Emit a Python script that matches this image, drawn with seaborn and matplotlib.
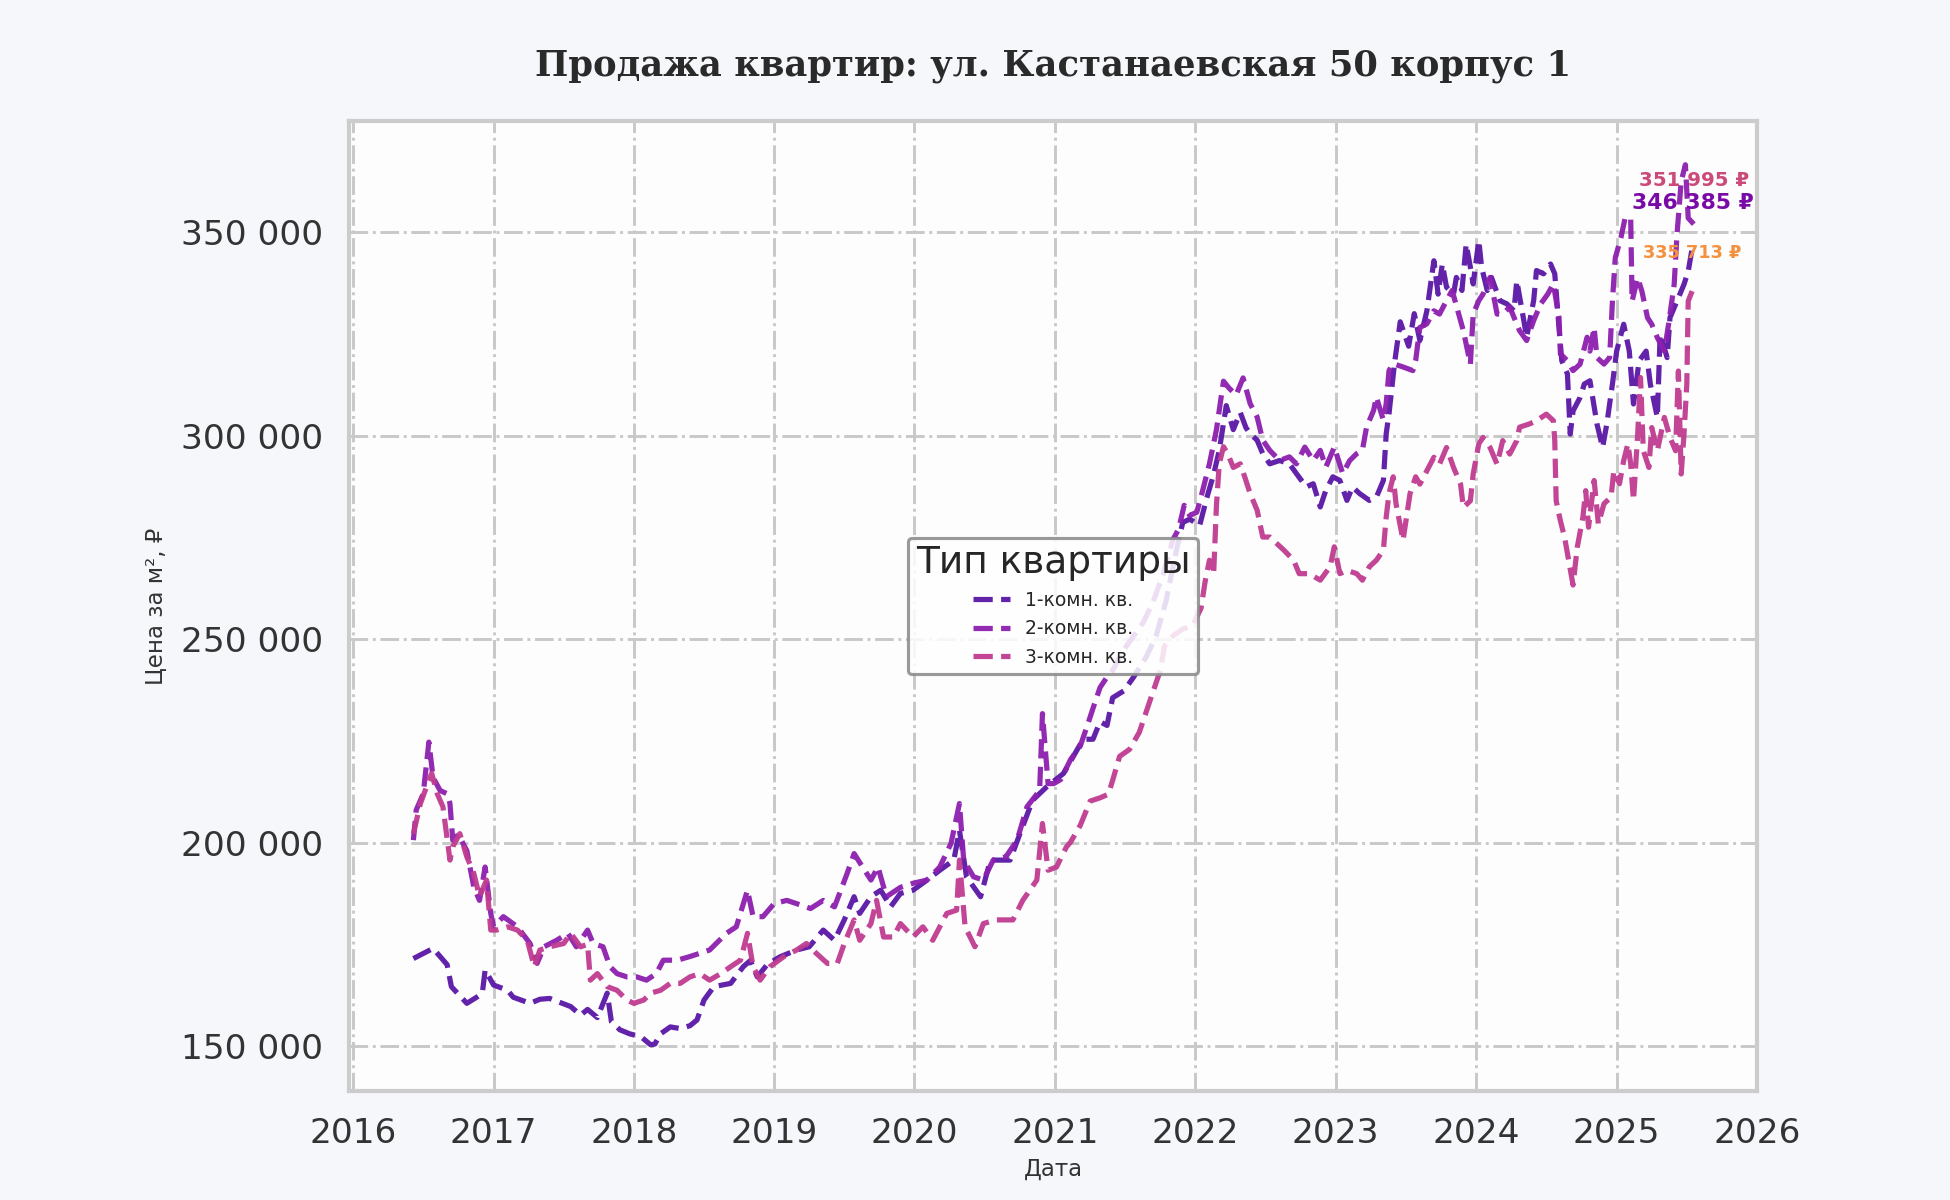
import numpy as np
import pandas as pd
import matplotlib
matplotlib.use("Agg")
import matplotlib.pyplot as plt
import matplotlib.dates as mdates
from matplotlib.ticker import FuncFormatter, FixedLocator
import seaborn as sns

# ---------------- data (decimal years, price in thousand ₽ per m²) ----------------
s1_years = [2016.43, 2016.57, 2016.67, 2016.70, 2016.81, 2016.88, 2016.92, 2016.94, 2017.00, 2017.10,
            2017.14, 2017.26, 2017.33, 2017.40, 2017.55, 2017.62, 2017.67, 2017.74, 2017.81, 2017.84,
            2017.90, 2017.97, 2018.05, 2018.12, 2018.15, 2018.19, 2018.26, 2018.33, 2018.40, 2018.45,
            2018.50, 2018.57, 2018.69, 2018.78, 2018.83, 2018.88, 2018.95, 2019.04, 2019.16, 2019.25,
            2019.35, 2019.43, 2019.50, 2019.57, 2019.61, 2019.69, 2019.76, 2019.83, 2019.90, 2019.99,
            2020.09, 2020.18, 2020.28, 2020.32, 2020.37, 2020.47, 2020.54, 2020.68, 2020.75, 2020.84,
            2020.94, 2021.06, 2021.13, 2021.20, 2021.27, 2021.32, 2021.37, 2021.41, 2021.49, 2021.56,
            2021.65, 2021.72, 2021.79, 2021.86, 2021.91, 2021.96, 2022.03, 2022.08, 2022.13, 2022.17,
            2022.22, 2022.27, 2022.32, 2022.36, 2022.39, 2022.44, 2022.48, 2022.53, 2022.60, 2022.67,
            2022.72, 2022.79, 2022.84, 2022.89, 2022.93, 2022.98, 2023.03, 2023.08, 2023.12, 2023.17,
            2023.24, 2023.29, 2023.34, 2023.36, 2023.38, 2023.42, 2023.46, 2023.52, 2023.56, 2023.60,
            2023.65, 2023.70, 2023.73, 2023.76, 2023.79, 2023.84, 2023.86, 2023.90, 2023.93, 2023.96,
            2023.98, 2024.02, 2024.04, 2024.08, 2024.11, 2024.17, 2024.22, 2024.27, 2024.29, 2024.34,
            2024.36, 2024.41, 2024.43, 2024.48, 2024.53, 2024.56, 2024.59, 2024.61, 2024.65, 2024.67,
            2024.69, 2024.74, 2024.77, 2024.81, 2024.86, 2024.90, 2024.93, 2024.97, 2025.00, 2025.05,
            2025.09, 2025.12, 2025.16, 2025.21, 2025.24, 2025.29, 2025.31, 2025.36, 2025.38, 2025.43,
            2025.48, 2025.51, 2025.54]
s1_prices = [171.5, 174.0, 170.0, 164.6, 160.5, 162.0, 163.0, 168.7, 165.0, 163.7,
             162.0, 160.5, 161.5, 161.7, 159.7, 157.6, 159.0, 157.0, 163.0, 156.0,
             154.0, 153.0, 152.3, 150.3, 150.5, 153.0, 154.7, 154.3, 155.0, 156.4,
             161.3, 164.6, 165.4, 169.5, 171.0, 167.0, 170.0, 171.9, 173.6, 174.4,
             178.5, 176.0, 181.0, 186.7, 182.6, 186.7, 188.3, 184.2, 187.5, 188.3,
             190.8, 193.2, 195.7, 203.0, 191.6, 186.7, 195.7, 195.7, 202.2, 210.4,
             213.7, 217.0, 221.2, 225.4, 225.4, 229.7, 228.8, 235.6, 237.3, 240.7,
             245.7, 250.8, 259.3, 271.1, 278.7, 279.5, 277.9, 284.6, 290.5, 296.4,
             307.4, 301.5, 305.7, 302.0, 300.5, 298.9, 295.6, 293.1, 293.9, 293.1,
             290.7, 287.4, 288.2, 282.5, 286.6, 289.9, 289.0, 284.1, 287.4, 285.8,
             284.1, 284.9, 289.0, 300.5, 305.4, 318.0, 328.0, 322.0, 330.0, 323.4,
             330.7, 343.0, 334.8, 342.2, 336.5, 334.8, 338.9, 335.7, 347.1, 341.4,
             337.3, 348.0, 341.4, 335.7, 338.9, 333.2, 332.4, 330.7, 338.1, 328.3,
             324.2, 333.2, 340.6, 339.8, 342.2, 339.8, 326.6, 318.4, 315.2, 300.4,
             306.1, 309.4, 312.7, 313.5, 302.9, 297.1, 302.9, 312.7, 320.8, 327.4,
             320.8, 307.8, 318.4, 320.8, 312.7, 304.5, 324.9, 319.2, 329.0, 333.1,
             337.2, 340.4, 346.385]

s2_years = [2016.43, 2016.45, 2016.50, 2016.54, 2016.57, 2016.62, 2016.67, 2016.69, 2016.71, 2016.75,
            2016.81, 2016.86, 2016.90, 2016.94, 2016.98, 2017.00, 2017.07, 2017.17, 2017.26, 2017.31,
            2017.36, 2017.45, 2017.53, 2017.59, 2017.67, 2017.71, 2017.78, 2017.83, 2017.88, 2017.95,
            2018.02, 2018.09, 2018.16, 2018.21, 2018.31, 2018.40, 2018.47, 2018.54, 2018.66, 2018.73,
            2018.81, 2018.85, 2018.92, 2019.00, 2019.09, 2019.16, 2019.26, 2019.35, 2019.43, 2019.52,
            2019.57, 2019.63, 2019.69, 2019.74, 2019.80, 2019.90, 2019.99, 2020.09, 2020.18, 2020.26,
            2020.32, 2020.35, 2020.42, 2020.49, 2020.56, 2020.65, 2020.73, 2020.80, 2020.89, 2020.91,
            2020.95, 2020.99, 2021.04, 2021.11, 2021.18, 2021.23, 2021.27, 2021.32, 2021.37, 2021.41,
            2021.49, 2021.56, 2021.63, 2021.70, 2021.77, 2021.84, 2021.88, 2021.92, 2021.96, 2022.01,
            2022.05, 2022.10, 2022.15, 2022.20, 2022.24, 2022.29, 2022.34, 2022.39, 2022.44, 2022.48,
            2022.53, 2022.60, 2022.67, 2022.72, 2022.78, 2022.84, 2022.89, 2022.93, 2022.99, 2023.05,
            2023.10, 2023.15, 2023.19, 2023.22, 2023.27, 2023.29, 2023.34, 2023.36, 2023.38, 2023.41,
            2023.48, 2023.55, 2023.57, 2023.60, 2023.65, 2023.70, 2023.74, 2023.79, 2023.83, 2023.87,
            2023.91, 2023.96, 2023.98, 2024.02, 2024.05, 2024.10, 2024.15, 2024.19, 2024.24, 2024.31,
            2024.36, 2024.41, 2024.46, 2024.51, 2024.55, 2024.59, 2024.60, 2024.65, 2024.69, 2024.74,
            2024.79, 2024.81, 2024.84, 2024.86, 2024.91, 2024.95, 2024.97, 2024.99, 2025.03, 2025.06,
            2025.10, 2025.11, 2025.15, 2025.18, 2025.22, 2025.25, 2025.29, 2025.34, 2025.37, 2025.41,
            2025.43, 2025.46, 2025.49, 2025.51, 2025.55]
s2_prices = [200.6, 208.0, 212.0, 224.7, 216.0, 212.8, 212.0, 209.6, 200.6, 202.0,
             198.0, 189.0, 185.8, 194.0, 182.6, 179.3, 181.8, 179.3, 175.2, 170.3,
             174.4, 176.0, 177.7, 174.4, 178.5, 175.2, 174.4, 169.5, 167.8, 167.0,
             167.0, 166.2, 167.8, 171.1, 171.1, 172.0, 172.8, 173.6, 177.7, 179.3,
             188.3, 181.8, 181.8, 185.0, 185.8, 185.0, 183.8, 185.8, 184.2, 192.4,
             197.3, 194.0, 190.8, 194.0, 186.7, 189.0, 190.0, 190.8, 194.0, 199.8,
             209.6, 195.7, 191.6, 190.8, 195.7, 196.5, 200.6, 208.8, 212.8, 231.7,
             214.5, 214.5, 215.5, 220.4, 223.8, 228.8, 233.0, 238.1, 240.7, 242.3,
             247.4, 250.8, 254.2, 259.3, 266.0, 274.5, 277.0, 282.9, 280.4, 281.2,
             286.3, 293.1, 301.5, 313.4, 311.7, 310.0, 314.2, 307.9, 304.6, 298.9,
             296.4, 293.9, 294.8, 293.1, 297.2, 293.9, 296.4, 292.3, 297.2, 290.7,
             293.9, 295.6, 296.4, 302.1, 306.2, 309.5, 303.8, 307.9, 316.0, 317.7,
             316.9, 316.0, 318.5, 326.6, 327.5, 330.7, 329.9, 333.2, 335.7, 330.7,
             325.8, 317.6, 329.9, 333.2, 334.8, 338.9, 329.9, 329.9, 331.6, 325.8,
             323.4, 328.3, 332.4, 334.8, 337.3, 329.1, 320.1, 318.4, 316.0, 317.6,
             324.2, 320.8, 326.6, 319.2, 317.6, 319.2, 333.1, 343.7, 348.6, 353.5,
             353.5, 333.1, 338.8, 335.5, 329.0, 327.4, 324.1, 320.8, 327.4, 337.2,
             349.4, 362.5, 366.6, 353.5, 351.995]

s3_years = [2016.43, 2016.48, 2016.54, 2016.56, 2016.60, 2016.64, 2016.69, 2016.71, 2016.76, 2016.81,
            2016.86, 2016.90, 2016.95, 2016.98, 2017.02, 2017.10, 2017.17, 2017.24, 2017.29, 2017.33,
            2017.40, 2017.50, 2017.55, 2017.62, 2017.67, 2017.69, 2017.74, 2017.81, 2017.88, 2017.95,
            2018.00, 2018.07, 2018.12, 2018.19, 2018.26, 2018.33, 2018.40, 2018.47, 2018.54, 2018.62,
            2018.69, 2018.76, 2018.81, 2018.85, 2018.90, 2018.97, 2019.07, 2019.16, 2019.23, 2019.30,
            2019.38, 2019.45, 2019.50, 2019.57, 2019.61, 2019.69, 2019.73, 2019.78, 2019.85, 2019.90,
            2019.99, 2020.06, 2020.13, 2020.23, 2020.30, 2020.32, 2020.36, 2020.43, 2020.49, 2020.58,
            2020.70, 2020.77, 2020.87, 2020.91, 2020.95, 2021.01, 2021.08, 2021.11, 2021.18, 2021.25,
            2021.32, 2021.38, 2021.41, 2021.46, 2021.53, 2021.60, 2021.65, 2021.70, 2021.75, 2021.78,
            2021.84, 2021.91, 2021.98, 2022.04, 2022.07, 2022.10, 2022.13, 2022.15, 2022.17, 2022.20,
            2022.23, 2022.27, 2022.32, 2022.36, 2022.39, 2022.44, 2022.48, 2022.53, 2022.58, 2022.63,
            2022.70, 2022.74, 2022.81, 2022.89, 2022.96, 2022.99, 2023.03, 2023.08, 2023.15, 2023.19,
            2023.24, 2023.29, 2023.34, 2023.36, 2023.38, 2023.41, 2023.43, 2023.48, 2023.53, 2023.57,
            2023.60, 2023.65, 2023.70, 2023.74, 2023.79, 2023.84, 2023.89, 2023.91, 2023.96, 2023.98,
            2024.02, 2024.05, 2024.10, 2024.15, 2024.19, 2024.24, 2024.29, 2024.31, 2024.38, 2024.43,
            2024.50, 2024.55, 2024.56, 2024.57, 2024.60, 2024.63, 2024.69, 2024.72, 2024.76, 2024.78,
            2024.80, 2024.84, 2024.87, 2024.91, 2024.96, 2024.98, 2025.02, 2025.05, 2025.08, 2025.10,
            2025.12, 2025.15, 2025.17, 2025.19, 2025.23, 2025.25, 2025.29, 2025.34, 2025.38, 2025.42,
            2025.44, 2025.46, 2025.48, 2025.50, 2025.51, 2025.54]
s3_prices = [202.2, 209.6, 215.3, 217.0, 212.0, 208.8, 195.7, 199.0, 202.2, 196.5,
             192.4, 186.7, 190.8, 178.5, 178.5, 179.3, 178.5, 176.0, 169.5, 173.6,
             174.4, 175.2, 177.7, 174.4, 175.0, 166.2, 167.8, 164.6, 163.7, 161.3,
             160.5, 161.3, 163.0, 163.7, 165.4, 165.4, 167.0, 167.8, 166.2, 167.8,
             169.5, 171.1, 177.7, 169.5, 166.2, 169.5, 172.0, 173.6, 175.2, 172.8,
             170.3, 170.3, 175.2, 181.0, 176.0, 180.1, 185.8, 176.8, 176.8, 180.1,
             176.8, 179.3, 176.0, 182.6, 183.4, 195.7, 179.3, 174.4, 180.1, 181.0,
             181.0, 185.8, 190.8, 204.7, 193.2, 194.0, 198.9, 200.1, 204.3, 210.2,
             211.0, 211.9, 215.3, 221.2, 222.9, 227.1, 232.2, 237.3, 242.3, 248.3,
             250.8, 252.5, 253.3, 257.6, 264.3, 269.4, 266.0, 282.9, 293.1, 297.3,
             295.6, 292.2, 293.1, 289.0, 285.8, 281.7, 275.1, 275.1, 273.5, 271.9,
             269.4, 266.1, 266.1, 264.5, 267.8, 272.7, 266.1, 266.9, 266.1, 264.5,
             267.8, 269.4, 271.9, 280.0, 285.8, 289.9, 283.3, 274.3, 285.8, 289.9,
             288.1, 291.4, 294.7, 293.0, 297.1, 292.2, 288.1, 282.4, 284.0, 290.6,
             298.0, 299.6, 297.1, 293.0, 298.8, 295.5, 298.8, 302.1, 302.9, 303.7,
             305.3, 303.7, 298.8, 284.0, 279.1, 275.0, 263.3, 272.6, 280.0, 286.5,
             277.5, 289.0, 278.3, 283.3, 284.9, 291.4, 288.2, 293.9, 298.0, 293.1,
             284.1, 300.4, 314.3, 296.3, 292.2, 302.0, 296.3, 304.5, 299.6, 296.3,
             315.9, 290.6, 300.4, 312.7, 333.1, 335.713]

series_names = ["1-комн. кв.", "2-комн. кв.", "3-комн. кв."]
line_colors = ["#5a17a6", "#8d1fae", "#bf3c8f"]
label_colors = ["#7a0aa8", "#cc4a7a", "#f4913e"]
label_sizes = [10.5, 9.5, 8.5]
label_offsets = [21, 21, 18]


def to_dates(years):
    out = []
    for y in years:
        yr = int(np.floor(y))
        start = pd.Timestamp(f"{yr}-01-01")
        end = pd.Timestamp(f"{yr + 1}-01-01")
        out.append(start + (end - start) * (y - yr))
    return out


frames = []
for name, ys, ps in zip(series_names, [s1_years, s2_years, s3_years], [s1_prices, s2_prices, s3_prices]):
    frames.append(pd.DataFrame({"Дата": to_dates(ys), "price": np.array(ps) * 1000, "Тип квартиры": name}))
df = pd.concat(frames, ignore_index=True)

# ---------------- style ----------------
sns.set_theme(style="whitegrid")
plt.rcParams["font.family"] = ["DejaVu Sans"]

fig = plt.figure(figsize=(13, 8), dpi=150, facecolor="#f6f7fb")
ax = fig.add_axes([0.179, 0.091, 0.722, 0.808])
ax.set_facecolor("#fdfdfe")

for name, col in zip(series_names, line_colors):
    sub = df[df["Тип квартиры"] == name]
    sns.lineplot(data=sub, x="Дата", y="price", color=col, linestyle="--", linewidth=2.5,
                 label=name, ax=ax, alpha=0.95, zorder=3)

# annotations of last values
for name, col, fs, off in zip(series_names, label_colors, label_sizes, label_offsets):
    sub = df[df["Тип квартиры"] == name]
    last = sub.iloc[-1]
    txt = f"{int(round(last['price'])):,} ₽".replace(",", " ")
    ax.annotate(txt, xy=(last["Дата"], last["price"]), xytext=(0, off), textcoords="offset points",
                ha="center", va="center", fontsize=fs, fontweight="bold", color=col, zorder=5)

ax.set_xlim(pd.Timestamp("2015-12-22"), pd.Timestamp("2026-01-01"))
ax.set_ylim(139000, 377300)
ax.yaxis.set_major_locator(FixedLocator([150000, 200000, 250000, 300000, 350000]))
ax.yaxis.set_major_formatter(FuncFormatter(lambda v, _: f"{int(v):,}".replace(",", " ")))
ax.xaxis.set_major_locator(mdates.YearLocator())
ax.xaxis.set_major_formatter(mdates.DateFormatter("%Y"))

ax.grid(True, linestyle="-.", color="#c8c8c8", linewidth=1.4)
ax.tick_params(axis="both", labelsize=16.5, colors="#333333", pad=12.5, length=0)
for sp in ax.spines.values():
    sp.set_color("#cccccc")
    sp.set_linewidth(2)

ax.set_xlabel("Дата", fontsize=11, color="#333333", labelpad=4)
ax.set_ylabel("Цена за м², ₽", fontsize=11, color="#333333", labelpad=6)
ax.set_title("Продажа квартир: ул. Кастанаевская 50 корпус 1", fontsize=17, fontweight="bold",
             family="DejaVu Serif", color="#2a2a2a", pad=22)

leg = ax.legend(title="Тип квартиры", loc="center", fontsize=9, title_fontsize=18,
                frameon=True, framealpha=0.85, edgecolor="#888888", facecolor="white")
leg.get_frame().set_linewidth(1.5)
leg.set_zorder(4)

fig.savefig("out.png", dpi=150, facecolor=fig.get_facecolor())
